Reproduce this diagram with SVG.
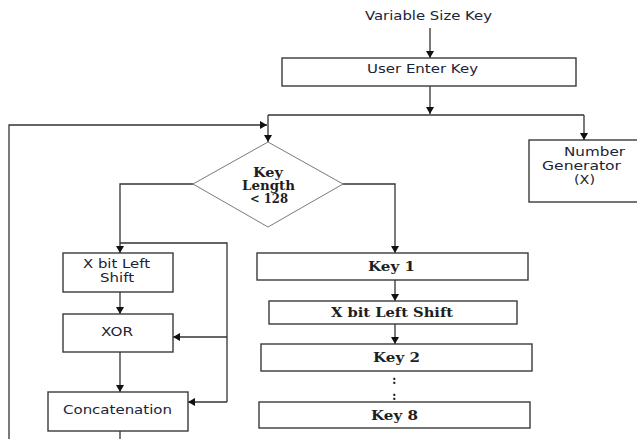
<svg xmlns="http://www.w3.org/2000/svg" width="637" height="439" viewBox="0 0 637 439">
  <style>
    .box { fill: #ffffff; stroke: #3a3a3a; stroke-width: 1.4; }
    .dia { fill: #ffffff; stroke: #7a7a7a; stroke-width: 1; }
    .wire { fill: none; stroke: #333333; stroke-width: 1.3; }
    .arr { marker-end: url(#head); }
    .sans { font-family: "DejaVu Sans", "Liberation Sans", sans-serif; font-size: 12px; fill: #1e2236; }
    .serif { font-family: "DejaVu Serif", "Liberation Serif", serif; font-size: 12px; font-weight: bold; fill: #1e1e1e; }
  </style>
  <defs>
    <marker id="head" markerUnits="userSpaceOnUse" markerWidth="9" markerHeight="9" refX="7" refY="4" orient="auto">
      <path d="M0,0 L7,4 L0,8 z" fill="#111111"/>
    </marker>
  </defs>
  <rect width="637" height="439" fill="#ffffff"/>

  <g id="connectors">
    <line class="wire arr" x1="430" y1="28" x2="430" y2="58"/>
    <line class="wire arr" x1="430" y1="86" x2="430" y2="114"/>
    <polyline class="wire" points="268,115 584,115"/>
    <line class="wire arr" x1="584" y1="115" x2="584" y2="140"/>
    <line class="wire arr" x1="268" y1="115" x2="268" y2="142"/>
    <polyline class="wire arr" points="9,439 9,125 267,125"/>
    <polyline class="wire arr" points="193,184 120,184 120,253"/>
    <polyline class="wire" points="120,243 227,243 227,402"/>
    <line class="wire arr" x1="227" y1="337" x2="173" y2="337"/>
    <line class="wire arr" x1="227" y1="402" x2="188" y2="402"/>
    <line class="wire arr" x1="120" y1="292" x2="120" y2="314"/>
    <line class="wire arr" x1="120" y1="352" x2="120" y2="392"/>
    <line class="wire" x1="120" y1="431" x2="120" y2="439"/>
    <polyline class="wire arr" points="343,184 395,184 395,253"/>
    <line class="wire arr" x1="395" y1="280" x2="395" y2="301"/>
    <line class="wire arr" x1="395" y1="324" x2="395" y2="344"/>
  </g>

  <g id="input-label">
    <text class="sans" x="365" y="20" textLength="127" lengthAdjust="spacingAndGlyphs">Variable Size Key</text>
  </g>

  <g id="user-enter-key">
    <rect class="box" x="282" y="58" width="294" height="28"/>
    <text class="sans" x="367" y="73" textLength="111" lengthAdjust="spacingAndGlyphs">User Enter Key</text>
  </g>

  <g id="number-generator">
    <rect class="box" x="529" y="140" width="110" height="62"/>
    <text class="sans" x="564" y="156" textLength="61" lengthAdjust="spacingAndGlyphs">Number</text>
    <text class="sans" x="542" y="170" textLength="79" lengthAdjust="spacingAndGlyphs">Generator</text>
    <text class="sans" x="574" y="184" textLength="21" lengthAdjust="spacingAndGlyphs">(X)</text>
  </g>

  <g id="key-length-check">
    <polygon class="dia" points="268,142 343,184 268,227 193,184"/>
    <text class="serif" x="253" y="177" textLength="30" lengthAdjust="spacingAndGlyphs">Key</text>
    <text class="serif" x="242" y="190" textLength="53" lengthAdjust="spacingAndGlyphs">Length</text>
    <text class="serif" x="250" y="203" textLength="38" lengthAdjust="spacingAndGlyphs">&lt; 128</text>
  </g>

  <g id="left-shift-short">
    <rect class="box" x="63" y="253" width="110" height="39"/>
    <text class="sans" x="83" y="268" textLength="67" lengthAdjust="spacingAndGlyphs">X bit Left</text>
    <text class="sans" x="100" y="282" textLength="34" lengthAdjust="spacingAndGlyphs">Shift</text>
  </g>

  <g id="xor">
    <rect class="box" x="63" y="314" width="110" height="38"/>
    <text class="sans" x="101" y="336" textLength="32" lengthAdjust="spacingAndGlyphs">XOR</text>
  </g>

  <g id="concatenation">
    <rect class="box" x="48" y="392" width="140" height="39"/>
    <text class="sans" x="63" y="414" textLength="109" lengthAdjust="spacingAndGlyphs">Concatenation</text>
  </g>

  <g id="key-1">
    <rect class="box" x="257" y="253" width="271" height="27"/>
    <text class="serif" x="368" y="271" textLength="47" lengthAdjust="spacingAndGlyphs">Key 1</text>
  </g>

  <g id="left-shift-long">
    <rect class="box" x="269" y="301" width="248" height="23"/>
    <text class="serif" x="331" y="317" textLength="122" lengthAdjust="spacingAndGlyphs">X bit Left Shift</text>
  </g>

  <g id="key-2">
    <rect class="box" x="261" y="344" width="271" height="27"/>
    <text class="serif" x="373" y="362" textLength="47" lengthAdjust="spacingAndGlyphs">Key 2</text>
  </g>

  <g id="ellipsis">
    <text class="serif" x="392" y="384">:</text>
    <text class="serif" x="392" y="400">:</text>
  </g>

  <g id="key-8">
    <rect class="box" x="259" y="402" width="271" height="26"/>
    <text class="serif" x="371" y="420" textLength="47" lengthAdjust="spacingAndGlyphs">Key 8</text>
  </g>
</svg>
